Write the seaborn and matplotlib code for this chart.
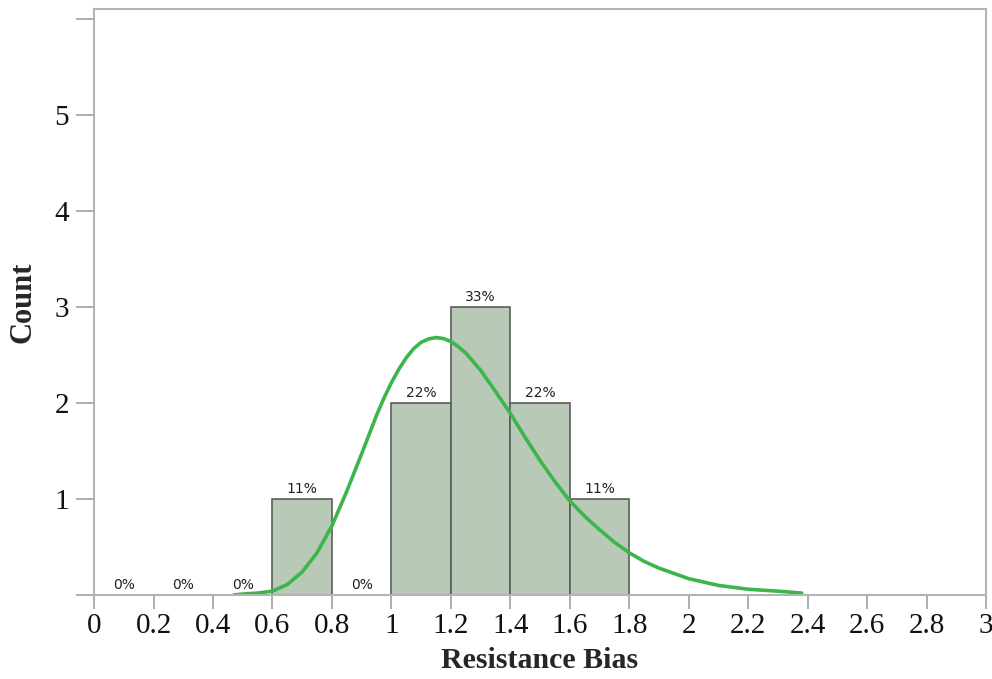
import numpy as np
import pandas as pd
import matplotlib
matplotlib.use("Agg")
import matplotlib.pyplot as plt
import seaborn as sns

# histogram bins (width 0.2) and counts
bin_edges = [0.0, 0.2, 0.4, 0.6, 0.8, 1.0, 1.2, 1.4, 1.6, 1.8]
bin_counts = [0, 0, 0, 1, 0, 2, 3, 2, 1]
pct_labels = ["0%", "0%", "0%", "11%", "0%", "22%", "33%", "22%", "11%"]

# fitted density curve (scaled to counts)
curve_x = [0.47, 0.5, 0.55, 0.6, 0.65, 0.7, 0.75, 0.8, 0.85, 0.9, 0.95, 0.975,
           1.0, 1.025, 1.05, 1.075, 1.1, 1.125, 1.15, 1.175, 1.2, 1.225, 1.25,
           1.275, 1.3, 1.35, 1.4, 1.45, 1.5, 1.55, 1.6, 1.65, 1.7, 1.75, 1.8,
           1.85, 1.9, 2.0, 2.1, 2.2, 2.3, 2.38]
curve_y = [0.00, 0.01, 0.02, 0.04, 0.11, 0.24, 0.44, 0.72, 1.08, 1.47, 1.87, 2.05,
           2.21, 2.35, 2.47, 2.565, 2.63, 2.665, 2.68, 2.67, 2.64, 2.585, 2.52,
           2.43, 2.34, 2.12, 1.89, 1.64, 1.40, 1.18, 0.98, 0.82, 0.68, 0.55, 0.44,
           0.35, 0.28, 0.17, 0.10, 0.06, 0.04, 0.02]

x_ticks = [0, 0.2, 0.4, 0.6, 0.8, 1, 1.2, 1.4, 1.6, 1.8, 2, 2.2, 2.4, 2.6, 2.8, 3]
x_tick_labels = ["0", "0.2", "0.4", "0.6", "0.8", "1", "1.2", "1.4", "1.6", "1.8",
                 "2", "2.2", "2.4", "2.6", "2.8", "3"]
y_ticks = [0, 1, 2, 3, 4, 5, 6]
y_tick_labels = ["", "1", "2", "3", "4", "5", ""]

sns.set_style("white")
plt.rcParams["font.family"] = ["Liberation Serif", "DejaVu Serif"]

centers = [(a + b) / 2 for a, b in zip(bin_edges[:-1], bin_edges[1:])]
hist_df = pd.DataFrame({"bias": centers, "n": bin_counts})

fig = plt.figure(figsize=(9.92, 6.79), dpi=100)
ax = fig.add_axes([0.0948, 0.1237, 0.8992, 0.8630])

sns.histplot(data=hist_df, x="bias", weights="n", bins=bin_edges, ax=ax,
             color="#b9c9b8", edgecolor="#5a5e5a", linewidth=1.2, alpha=1)
sns.lineplot(x=curve_x, y=curve_y, ax=ax, color="#3db54a", linewidth=2.6)

# percent labels above each bin
for c, n, lab in zip(centers, bin_counts, pct_labels):
    ax.text(c, n + 0.03, lab, ha="center", va="bottom", fontsize=10,
            family=["DejaVu Sans"], color="#222222")

ax.set_xlim(0, 3)
ax.set_ylim(0, 6.1)
ax.set_xticks(x_ticks)
ax.set_xticklabels(x_tick_labels)
ax.set_yticks(y_ticks)
ax.set_yticklabels(y_tick_labels)
ax.tick_params(axis="both", direction="out", color="#a0a0a0", width=1.2,
               labelsize=21, labelcolor="#111111", bottom=True, left=True)
ax.tick_params(axis="y", length=13, pad=5)
ax.tick_params(axis="x", length=10, pad=3)

for s in ax.spines.values():
    s.set_color("#b4b4b4")
    s.set_linewidth(1.5)

ax.set_xlabel("Resistance Bias", fontsize=21.5, fontweight="bold", labelpad=6)
ax.set_ylabel("Count", fontsize=22, fontweight="bold", labelpad=12)

fig.savefig("out.png", dpi=100)
